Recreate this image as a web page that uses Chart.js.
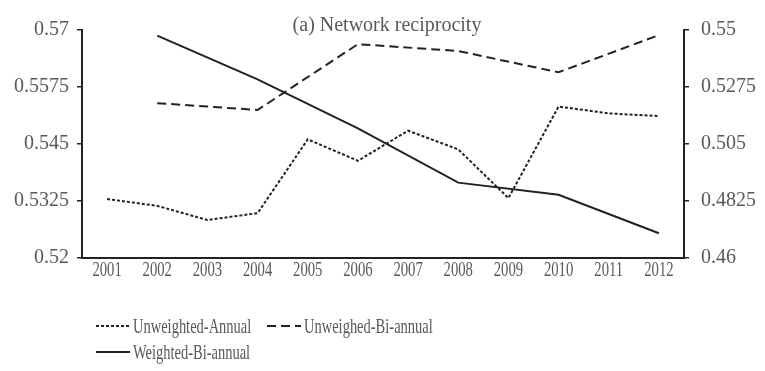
<!DOCTYPE html>
<html>
<head>
<meta charset="utf-8">
<script src="https://cdn.jsdelivr.net/npm/chart.js@4.4.1/dist/chart.umd.min.js"></script>
<style>
  html, body { margin: 0; padding: 0; background: #fff; }
  #wrap { position: relative; width: 765px; height: 371px; }
  #legend {
    position: absolute; left: 96px; top: 313px;
    display: grid; grid-template-columns: 171px 171px; grid-auto-rows: 26px;
    font: 21px "Liberation Serif", "Times New Roman", serif; color: #595959;
  }
  .item { display: flex; align-items: center; white-space: nowrap; }
  .item svg { flex: none; }
  .item span { display: inline-block; transform: scaleX(0.69); transform-origin: 0 50%; margin-left: 3px; }
</style>
</head>
<body>
<div id="wrap">
  <canvas id="c" width="765" height="371"></canvas>
  <div id="legend"></div>
</div>
<script>
// Years on the horizontal axis
const years = ['2001', '2002', '2003', '2004', '2005', '2006', '2007', '2008', '2009', '2010', '2011', '2012'];

// Reciprocity per year (left axis)
const unweightedAnnual = [0.5329, 0.5314, 0.5283, 0.5298, 0.5460, 0.5413, 0.5479, 0.5438, 0.5331, 0.5532, 0.5517, 0.5511];

// Two-year windows, reported on even years only (right axis)
const unweighedBiannual = [null, 0.5211, null, 0.5184, null, 0.5444, null, 0.5417, null, 0.5333, null, 0.5480];
const weightedBiannual  = [null, 0.5478, null, 0.5305, null, 0.5111, null, 0.4897, null, 0.4849, null, 0.4697];

// Axis tick values
const leftTicks  = [0.52, 0.5325, 0.545, 0.5575, 0.57];
const rightTicks = [0.46, 0.4825, 0.505, 0.5275, 0.55];

const INK = '#222222';
const TEXT = '#595959';
const SERIF = '"Liberation Serif", "Times New Roman", serif';
const SQUEEZE = 0.7; // narrow year labels

// Draws the category labels horizontally condensed.
const condensedLabels = {
  id: 'condensedLabels',
  beforeDraw(chart) {
    const scale = chart.scales.x;
    if (!scale || scale._condensed) return;
    const base = scale.drawLabels.bind(scale);
    scale.drawLabels = function (area) {
      const ctx = this.ctx;
      const fill = ctx.fillText;
      ctx.fillText = function (t, x, y, w) {
        this.save();
        this.scale(SQUEEZE, 1);
        if (w === undefined) fill.call(this, t, x / SQUEEZE, y);
        else fill.call(this, t, x / SQUEEZE, y, w / SQUEEZE);
        this.restore();
      };
      try { base(area); } finally { delete ctx.fillText; }
    };
    scale._condensed = true;
  }
};

const fixedTicks = values => scale => { scale.ticks = values.map(v => ({ value: v })); };

const chart = new Chart(document.getElementById('c'), {
  type: 'line',
  data: {
    labels: years,
    datasets: [
      { label: 'Unweighted-Annual', data: unweightedAnnual, yAxisID: 'y',
        borderColor: INK, borderWidth: 2, borderDash: [3, 2], pointRadius: 0, tension: 0 },
      { label: 'Unweighed-Bi-annual', data: unweighedBiannual, yAxisID: 'y1',
        borderColor: INK, borderWidth: 2, borderDash: [9, 5], pointRadius: 0, tension: 0, spanGaps: true },
      { label: 'Weighted-Bi-annual', data: weightedBiannual, yAxisID: 'y1',
        borderColor: INK, borderWidth: 2, pointRadius: 0, tension: 0, spanGaps: true }
    ]
  },
  options: {
    responsive: false,
    devicePixelRatio: 1,
    animation: false,
    layout: { padding: { left: 6, right: -3, top: 0, bottom: 88 } },
    plugins: {
      legend: { display: false },
      tooltip: { enabled: false },
      title: {
        display: true,
        text: '(a) Network reciprocity',
        color: TEXT,
        font: { family: SERIF, size: 20, weight: 'normal' },
        padding: { top: 14, bottom: -8 }
      }
    },
    scales: {
      x: {
        type: 'category',
        offset: true,
        grid: { display: false, drawTicks: false },
        border: { display: true, color: INK, width: 2 },
        ticks: { padding: 0, color: TEXT, font: { family: SERIF, size: 21 }, maxRotation: 0, autoSkip: false }
      },
      y: {
        position: 'left',
        min: 0.52, max: 0.57,
        afterBuildTicks: fixedTicks(leftTicks),
        grid: { drawOnChartArea: false, tickLength: 5, color: INK, lineWidth: 1.5 },
        border: { display: true, color: INK, width: 2 },
        ticks: { padding: 8, color: TEXT, font: { family: SERIF, size: 20 }, callback: v => String(v) }
      },
      y1: {
        position: 'right',
        min: 0.46, max: 0.55,
        afterBuildTicks: fixedTicks(rightTicks),
        grid: { drawOnChartArea: false, tickLength: 5, color: INK, lineWidth: 1.5 },
        border: { display: true, color: INK, width: 2 },
        ticks: { padding: 12, color: TEXT, font: { family: SERIF, size: 20 }, callback: v => String(v) }
      }
    }
  },
  plugins: [condensedLabels]
});

// Legend built from the chart's datasets
const legend = document.getElementById('legend');
chart.data.datasets.forEach(ds => {
  const item = document.createElement('div');
  item.className = 'item';
  const dash = ds.borderDash ? ds.borderDash.join(' ') : 'none';
  item.innerHTML =
    '<svg width="34" height="10"><line x1="0" y1="5" x2="34" y2="5" stroke="' + ds.borderColor +
    '" stroke-width="' + ds.borderWidth + '" stroke-dasharray="' + dash + '"/></svg>';
  const span = document.createElement('span');
  span.textContent = ds.label;
  item.appendChild(span);
  legend.appendChild(item);
});
</script>
</body>
</html>
